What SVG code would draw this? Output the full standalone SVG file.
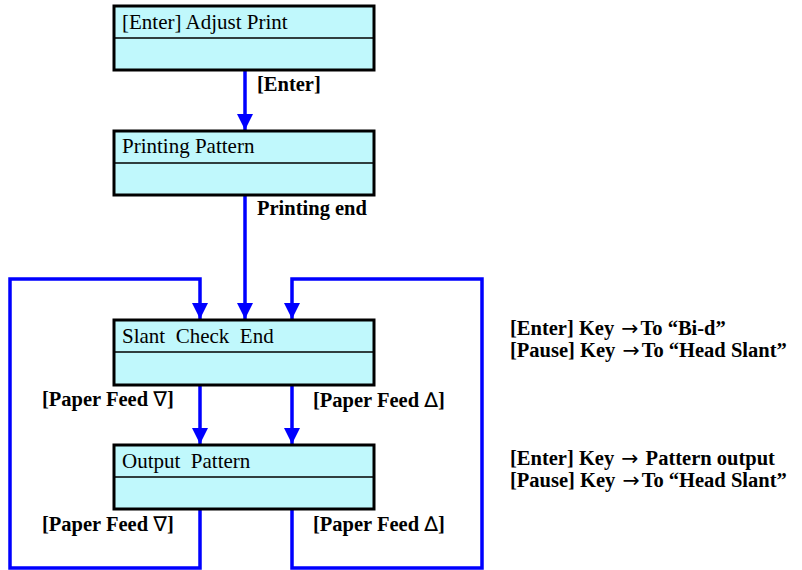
<svg xmlns="http://www.w3.org/2000/svg" width="802" height="570" viewBox="0 0 802 570">
<style>
.box{fill:#c0f8fc;stroke:#000;stroke-width:3}
.div{stroke:#000;stroke-width:1.5}
.t{font-family:"Liberation Serif","Times New Roman",serif;font-size:21px;fill:#000}
.l{font-family:"Liberation Serif","Times New Roman",serif;font-size:20.5px;font-weight:bold;fill:#000}
.a{font-family:"DejaVu Sans",sans-serif;font-weight:normal;font-size:20.5px}
.c{fill:none;stroke:#0000ff;stroke-width:3.5}
</style>
<defs>
<marker id="ah" viewBox="0 0 16 16" refX="16" refY="8" markerWidth="16" markerHeight="16" markerUnits="userSpaceOnUse" orient="auto">
<path d="M0,0 L16,8 L0,16 Z" fill="#0000ff"/>
</marker>
</defs>
<rect width="802" height="570" fill="#fff"/>
<g id="connectors">
<path class="c" d="M245,70 V130" marker-end="url(#ah)"/>
<path class="c" d="M245,195 V319" marker-end="url(#ah)"/>
<path class="c" d="M200,509 V568 H10 V279 H200 V319" marker-end="url(#ah)"/>
<path class="c" d="M292,509 V568 H482 V279 H292 V319" marker-end="url(#ah)"/>
<path class="c" d="M200,385 V444" marker-end="url(#ah)"/>
<path class="c" d="M292,385 V444" marker-end="url(#ah)"/>
</g>
<g id="node-adjust-print">
<rect class="box" x="114" y="6" width="260" height="64"/>
<line class="div" x1="114" y1="38" x2="374" y2="38"/>
<text class="t" x="122" y="29">[Enter] Adjust Print</text>
</g>
<g id="node-printing-pattern">
<rect class="box" x="114" y="131" width="260" height="64"/>
<line class="div" x1="114" y1="163" x2="374" y2="163"/>
<text class="t" x="122" y="153">Printing Pattern</text>
</g>
<g id="node-slant-check-end">
<rect class="box" x="114" y="320" width="260" height="65"/>
<line class="div" x1="114" y1="352" x2="374" y2="352"/>
<text class="t" x="122" y="343" xml:space="preserve">Slant  Check  End</text>
</g>
<g id="node-output-pattern">
<rect class="box" x="114" y="445" width="260" height="64"/>
<line class="div" x1="114" y1="477" x2="374" y2="477"/>
<text class="t" x="122" y="468" xml:space="preserve">Output  Pattern</text>
</g>
<g id="labels">
<text class="l" x="257" y="91">[Enter]</text>
<text class="l" x="257" y="215">Printing end</text>
<text class="l" x="42" y="406">[Paper Feed <tspan class="a">∇</tspan>]</text>
<text class="l" x="313" y="407">[Paper Feed <tspan class="a">∆</tspan>]</text>
<text class="l" x="42" y="531">[Paper Feed <tspan class="a">∇</tspan>]</text>
<text class="l" x="313" y="531">[Paper Feed <tspan class="a">∆</tspan>]</text>
<text class="l" x="510" y="335">[Enter] Key <tspan class="a" dx="2">→</tspan><tspan dx="2">To “Bi-d”</tspan></text>
<text class="l" x="510" y="357">[Pause] Key <tspan class="a" dx="2">→</tspan><tspan dx="2">To “Head Slant”</tspan></text>
<text class="l" x="510" y="465">[Enter] Key <tspan class="a" dx="2">→</tspan><tspan dx="2"> Pattern output</tspan></text>
<text class="l" x="510" y="487">[Pause] Key <tspan class="a" dx="2">→</tspan><tspan dx="2">To “Head Slant”</tspan></text>
</g>
</svg>
